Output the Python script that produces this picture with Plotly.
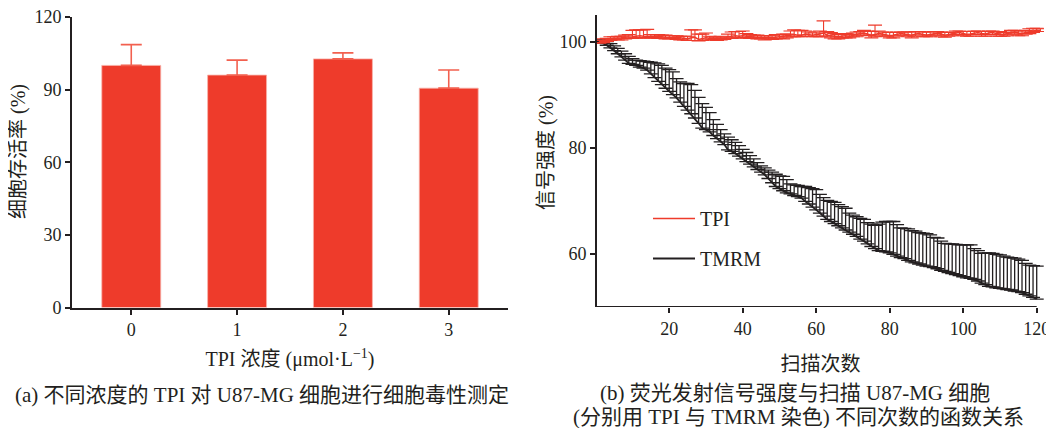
import plotly.graph_objects as go

W, H = 1054, 428
OFF = 8  # page body margin offsets the figure by 8px
FONT = "Liberation Serif, 'Noto Sans CJK SC', serif"
INK = "#231f20"
RED = "#ee3b2b"
RED_ERR = "#f2604f"


def px_x(p):
    return (p - OFF) / W


def px_y(p):
    return 1 - (p - OFF) / H


# ---------------- (a) data ----------------
conc = [0, 1, 2, 3]
conc_labels = ["0", "1", "2", "3"]
viability = [100.0, 96.0, 102.7, 90.6]
viability_err = [8.6, 6.2, 2.5, 7.5]

# ---------------- (b) data ----------------
scan_tmrm = list(range(1, 121))
tmrm_mean = [
    100.0, 99.7, 99.3, 98.8, 98.3, 97.7, 97.1, 96.5, 95.9, 95.7,
    95.5, 95.2, 95.0, 94.6, 93.9, 93.2, 92.5, 91.9, 91.2, 90.6,
    90.0, 89.4, 88.6, 87.8, 87.1, 86.4, 85.6, 84.6, 83.7, 83.4,
    83.0, 82.3, 81.7, 81.1, 80.6, 79.6, 79.3, 78.9, 78.4, 77.9,
    77.4, 76.9, 76.4, 75.9, 75.4, 74.9, 74.2, 73.4, 72.7, 72.3,
    71.9, 71.5, 71.3, 71.0, 70.8, 70.5, 69.9, 69.4, 68.8, 68.3,
    67.7, 67.1, 66.5, 66.1, 65.7, 65.3, 64.9, 64.5, 64.1, 63.7,
    63.3, 62.8, 62.4, 61.9, 61.4, 61.0, 60.6, 60.5, 60.4, 60.2,
    59.9, 59.6, 59.3, 59.1, 58.8, 58.5, 58.3, 58.1, 57.9, 57.7,
    57.6, 57.4, 57.2, 56.9, 56.7, 56.5, 56.3, 56.1, 55.9, 55.7,
    55.5, 55.4, 55.2, 54.9, 54.5, 54.2, 53.9, 53.8, 53.6, 53.5,
    53.4, 53.3, 53.2, 53.0, 52.9, 52.7, 52.4, 52.1, 51.8, 51.5,
]
tmrm_err = [
    0.3, 0.5, 0.7, 0.8, 0.9, 1.0, 1.1, 1.2, 1.3, 1.1,
    1.0, 1.2, 1.3, 1.6, 2.2, 2.8, 3.3, 3.6, 3.8, 4.1,
    4.3, 3.6, 3.8, 4.3, 5.0, 5.5, 5.2, 4.9, 4.6, 4.2,
    3.6, 3.0, 2.7, 2.3, 2.0, 2.4, 2.2, 2.1, 2.0, 1.8,
    1.7, 1.6, 1.5, 1.3, 1.2, 1.3, 1.6, 2.0, 2.3, 2.4,
    2.7, 2.5, 1.9, 2.0, 2.1, 2.2, 2.8, 3.1, 3.5, 3.8,
    3.5, 3.5, 3.6, 3.8, 4.0, 4.0, 4.0, 4.1, 3.6, 3.6,
    3.7, 3.9, 4.1, 4.0, 4.2, 4.4, 5.0, 5.5, 5.7, 5.9,
    6.2, 5.9, 5.6, 5.7, 5.9, 5.9, 6.0, 5.9, 6.0, 6.1,
    6.0, 5.7, 5.8, 5.5, 5.3, 5.4, 5.6, 5.7, 5.8, 6.0,
    6.2, 6.3, 5.8, 5.7, 5.6, 6.0, 6.3, 6.3, 6.3, 6.3,
    6.2, 6.1, 6.1, 6.2, 6.1, 6.1, 5.8, 5.8, 6.0, 6.2,
]

scan_tpi = list(range(1, 122))
tpi_mean = [
    100.0, 100.2, 100.3, 100.5, 100.6, 100.6, 100.7, 100.8, 100.8, 100.9,
    101.0, 101.1, 101.0, 101.0, 100.9, 101.0, 100.9, 100.9, 100.8, 100.8,
    100.8, 100.7, 100.7, 100.6, 100.5, 100.7, 100.8, 100.4, 100.5, 100.7,
    100.6, 100.6, 100.5, 100.6, 100.6, 100.9, 101.0, 101.1, 101.0, 101.1,
    101.0, 100.9, 100.9, 100.8, 100.8, 100.7, 100.8, 100.7, 100.8, 100.9,
    100.9, 101.0, 101.2, 101.3, 101.2, 101.2, 101.4, 101.3, 101.2, 101.3,
    101.4, 101.6, 101.2, 101.1, 101.0, 100.9, 101.0, 101.1, 101.0, 101.2,
    101.3, 101.5, 101.6, 101.4, 101.2, 101.3, 101.5, 101.4, 101.3, 101.1,
    101.2, 101.4, 101.5, 101.4, 101.3, 101.2, 101.4, 101.5, 101.3, 101.2,
    101.3, 101.5, 101.6, 101.4, 101.2, 101.3, 101.5, 101.6, 101.7, 101.5,
    101.3, 101.4, 101.6, 101.7, 101.5, 101.4, 101.6, 101.7, 101.5, 101.4,
    101.3, 101.5, 101.7, 101.8, 101.6, 101.5, 101.7, 101.9, 102.0, 102.1,
    102.1,
]
tpi_err_up = [
    0.2, 0.3, 0.3, 0.4, 0.3, 0.4, 0.3, 0.4, 0.5, 1.2,
    1.2, 1.1, 1.2, 1.3, 0.4, 0.3, 0.4, 0.3, 0.4, 0.3,
    0.3, 0.4, 0.3, 0.4, 0.5, 1.5, 1.4, 1.0, 0.9, 0.9,
    0.4, 0.3, 0.3, 0.4, 0.3, 0.5, 0.8, 0.8, 0.9, 0.9,
    0.5, 0.4, 0.3, 0.4, 0.3, 0.4, 0.3, 0.4, 0.5, 0.4,
    0.5, 0.4, 0.8, 0.9, 0.9, 0.9, 0.6, 0.5, 0.4, 0.5,
    0.6, 2.3, 0.7, 0.6, 0.5, 0.4, 0.5, 0.4, 0.3, 0.4,
    0.5, 0.4, 0.5, 0.6, 0.7, 1.8, 0.5, 0.4, 0.5, 0.6,
    0.5, 0.4, 0.3, 0.4, 0.5, 0.6, 0.5, 0.4, 0.5, 0.6,
    0.5, 0.4, 0.3, 0.4, 0.5, 0.4, 0.3, 0.4, 0.3, 0.4,
    0.6, 0.5, 0.4, 0.3, 0.4, 0.5, 0.4, 0.3, 0.4, 0.5,
    0.4, 0.3, 0.4, 0.3, 0.4, 0.5, 0.4, 0.5, 0.5, 0.4,
    0.3,
]
tpi_err_down = [
    0.3, 0.4, 0.3, 0.3, 0.2, 0.3, 0.4, 0.3, 0.2, 0.3,
    0.3, 0.4, 0.3, 0.3, 0.2, 0.3, 0.3, 0.2, 0.3, 0.3,
    0.2, 0.3, 0.4, 0.3, 0.3, 0.5, 0.6, 0.3, 0.3, 0.4,
    0.3, 0.2, 0.3, 0.3, 0.2, 0.3, 0.4, 0.3, 0.3, 0.4,
    0.3, 0.3, 0.2, 0.3, 0.3, 0.4, 0.3, 0.3, 0.3, 0.3,
    0.4, 0.3, 0.3, 0.4, 0.3, 0.3, 0.4, 0.3, 0.3, 0.4,
    0.5, 0.5, 0.3, 0.4, 0.5, 0.4, 0.3, 0.4, 0.3, 0.3,
    0.4, 0.3, 0.4, 0.3, 0.5, 0.4, 0.3, 0.4, 0.3, 0.4,
    0.5, 0.4, 0.3, 0.3, 0.4, 0.5, 0.4, 0.3, 0.4, 0.3,
    0.4, 0.3, 0.4, 0.5, 0.4, 0.3, 0.4, 0.3, 0.4, 0.4,
    0.3, 0.4, 0.3, 0.4, 0.5, 0.4, 0.3, 0.4, 0.5, 0.4,
    0.3, 0.4, 0.3, 0.4, 0.5, 0.4, 0.3, 0.4, 0.3, 0.2,
    0.2,
]

fig = go.Figure()

fig.add_trace(go.Bar(
    x=conc, y=viability, width=0.557,
    marker=dict(color=RED, line=dict(color="#f7b3aa", width=0.8)),
    error_y=dict(type="data", array=viability_err, arrayminus=[0] * 4,
                 symmetric=False, color=RED_ERR, thickness=1.6, width=10.5),
    xaxis="x", yaxis="y", showlegend=False,
))

fig.add_trace(go.Scatter(
    x=scan_tmrm, y=tmrm_mean, mode="lines", name="TMRM", legendrank=2,
    legendgroup="tmrm",
    line=dict(color=INK, width=1.8),
    error_y=dict(type="data", array=tmrm_err, arrayminus=[0] * len(tmrm_err),
                 symmetric=False, color=INK, thickness=1.3, width=7),
    xaxis="x2", yaxis="y2",
))
fig.add_trace(go.Scatter(
    x=scan_tpi, y=tpi_mean, mode="lines", name="TPI", legendrank=1,
    legendgroup="tpi",
    line=dict(color=RED, width=1.6),
    error_y=dict(type="data", array=tpi_err_up, arrayminus=tpi_err_down,
                 symmetric=False, color=RED, thickness=1.1, width=7),
    xaxis="x2", yaxis="y2",
))

axis_common = dict(
    showgrid=False, zeroline=False, showline=True, linecolor=INK, linewidth=2,
    ticks="outside", ticklen=5, tickwidth=2, tickcolor=INK, automargin=False,
    ticklabeloverflow="allow",
    tickfont=dict(family=FONT, size=18, color=INK),
)

# right x axis: 0.35 -> 597px, 3.675 px/unit
x2_lo, x2_hi = 0.35, 122.0

fig.update_layout(
    width=W, height=H,
    margin=dict(l=0, r=0, t=0, b=0),
    paper_bgcolor="white", plot_bgcolor="white",
    font=dict(family=FONT, size=18, color=INK),
    xaxis=dict(axis_common, domain=[px_x(72), px_x(508)], range=[-0.56, 3.56],
               tickvals=conc, ticktext=conc_labels, anchor="y",
               title=dict(text="TPI 浓度 (μmol·L<sup>−1</sup>)", standoff=13,
                          font=dict(family=FONT, size=20, color=INK))),
    yaxis=dict(axis_common, domain=[px_y(307.5), px_y(17)], range=[0, 120],
               tickvals=[0, 30, 60, 90, 120], anchor="x"),
    xaxis2=dict(axis_common, domain=[px_x(597), px_x(597 + (x2_hi - x2_lo) * 3.675)],
                range=[x2_lo, x2_hi],
                showline=False, tickvals=[20, 40, 60, 80, 100, 120], anchor="y2",
                title=dict(text="扫描次数", standoff=19,
                           font=dict(family=FONT, size=20, color=INK))),
    yaxis2=dict(axis_common, domain=[px_y(307), px_y(15)], range=[50, 105],
                tickvals=[60, 80, 100], anchor="x2"),
    legend=dict(x=px_x(648), y=px_y(199), xanchor="left", yanchor="top",
                tracegroupgap=11, itemwidth=42,
                font=dict(family=FONT, size=20, color=INK),
                bgcolor="rgba(0,0,0,0)"),
    shapes=[dict(type="line", xref="x2", yref="y2", x0=x2_lo, x1=120, y0=50, y1=50,
                 line=dict(color=INK, width=2), layer="above")],
    annotations=[
        dict(text="细胞存活率 (%)", xref="paper", yref="paper", textangle=-90,
             x=px_x(18), y=px_y(152), showarrow=False, xanchor="center", yanchor="middle",
             font=dict(family=FONT, size=20, color=INK)),
        dict(text="信号强度 (%)", xref="paper", yref="paper", textangle=-90,
             x=px_x(546), y=px_y(152), showarrow=False, xanchor="center", yanchor="middle",
             font=dict(family=FONT, size=20, color=INK)),
        dict(text="(a) 不同浓度的 TPI 对 U87-MG 细胞进行细胞毒性测定", xref="paper", yref="paper",
             x=px_x(262), y=px_y(395), showarrow=False, xanchor="center", yanchor="middle",
             font=dict(family=FONT, size=21, color=INK)),
        dict(text="(b) 荧光发射信号强度与扫描 U87-MG 细胞", xref="paper", yref="paper",
             x=px_x(795), y=px_y(393), showarrow=False, xanchor="center", yanchor="middle",
             font=dict(family=FONT, size=21, color=INK)),
        dict(text="(分别用 TPI 与 TMRM 染色) 不同次数的函数关系", xref="paper", yref="paper",
             x=px_x(798), y=px_y(417), showarrow=False, xanchor="center", yanchor="middle",
             font=dict(family=FONT, size=21, color=INK)),
    ],
)

fig.write_html("out.html")
